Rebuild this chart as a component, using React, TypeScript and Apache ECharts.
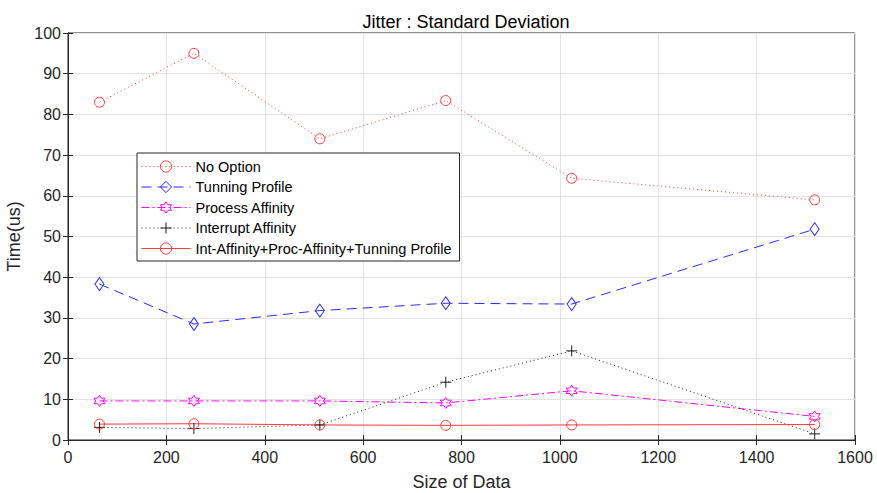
import React, { useEffect, useRef } from "react";
import * as echarts from "echarts";

const xValues = [64, 256, 512, 768, 1024, 1518];
const noOption = [83.0, 95.0, 74.0, 83.4, 64.3, 59.0];
const tunningProfile = [38.3, 28.5, 31.8, 33.6, 33.4, 51.8];
const processAffinity = [9.6, 9.6, 9.6, 9.1, 12.1, 5.8];
const interruptAffinity = [3.1, 2.8, 3.7, 14.2, 21.9, 1.5];
const combined = [3.9, 4.0, 3.7, 3.6, 3.7, 3.8];
const seriesNames = [
  "No Option",
  "Tunning Profile",
  "Process Affinity",
  "Interrupt Affinity",
  "Int-Affinity+Proc-Affinity+Tunning Profile",
];

const hexagram =
  "path://M100,0 L128.9,50 L186.6,50 L157.7,100 L186.6,150 L128.9,150 L100,200 L71.1,150 L13.4,150 L42.3,100 L13.4,50 L71.1,50 Z";
const plus = "path://M0,50 L100,50 M50,0 L50,100";

const FONT = "Arial, 'Liberation Sans', sans-serif";
const AXIS = "#262626";

export default function App() {
  const ref = useRef<HTMLDivElement>(null);
  useEffect(() => {
    if (!ref.current) return;
    const chart = echarts.init(ref.current, undefined, { renderer: "svg" });
    const pairs = (ys: number[]) => xValues.map((x, i) => [x, ys[i]]);
    const styles = [
      { color: "#ff3a3a", type: [1, 3], symbol: "circle", size: 10 },
      { color: "#2a2aff", type: [10, 6], symbol: "diamond", size: [9, 13] },
      { color: "#ff00ff", type: [8, 3, 2, 3], symbol: hexagram, size: 11 },
      { color: "#202020", type: [1, 3], symbol: plus, size: 11 },
      { color: "#ff3a3a", type: "solid", symbol: "circle", size: 10 },
    ];
    const values = [noOption, tunningProfile, processAffinity, interruptAffinity, combined];
    const series = seriesNames.map((name, k) => ({
      name,
      type: "line",
      data: pairs(values[k]),
      symbol: styles[k].symbol,
      symbolSize: styles[k].size,
      showAllSymbol: true,
      lineStyle: { color: styles[k].color, width: 1, type: styles[k].type },
      itemStyle: { color: "rgba(0,0,0,0)", borderColor: styles[k].color, borderWidth: 1 },
      emphasis: { disabled: true },
    }));
    const legendData = seriesNames.map((name, k) => ({
      name,
      itemStyle: { color: "rgba(0,0,0,0)", borderColor: styles[k].color, borderWidth: 1 },
      lineStyle: { color: styles[k].color, width: 1, type: styles[k].type },
    }));
    const tickLabel = (v: number) => String(v);
    chart.setOption({
      animation: false,
      backgroundColor: "#ffffff",
      title: {
        text: "Jitter : Standard Deviation",
        left: 461,
        textAlign: "center",
        top: 8,
        textStyle: { fontFamily: FONT, fontSize: 18, fontWeight: "normal", color: "#000" },
      },
      legend: {
        orient: "vertical",
        left: 137,
        top: 153,
        itemWidth: 49,
        itemHeight: 14,
        itemGap: 5.5,
        padding: [6, 8, 5, 4],
        backgroundColor: "#ffffff",
        borderColor: "#262626",
        borderWidth: 1,
        borderRadius: 0,
        textStyle: { fontFamily: FONT, fontSize: 14.5, color: "#000" },
        data: legendData,
      },
      grid: {
        left: 68,
        right: 22,
        top: 33,
        bottom: 53,
        show: true,
        borderColor: AXIS,
        borderWidth: 1,
        backgroundColor: "#fff",
        containLabel: false,
        outerBoundsMode: "none",
      },
      xAxis: [
        {
          type: "value",
          min: 0,
          max: 1600,
          interval: 200,
          name: "Size of Data",
          nameLocation: "middle",
          nameGap: 33,
          nameTextStyle: { fontFamily: FONT, fontSize: 18, color: AXIS },
          axisLine: { show: true, lineStyle: { color: AXIS } },
          axisTick: { inside: true, length: 5, lineStyle: { color: AXIS } },
          axisLabel: { fontFamily: FONT, fontSize: 16, color: AXIS, margin: 9, formatter: tickLabel },
          splitLine: { show: true, lineStyle: { color: "#e3e3e3", width: 1 } },
        },
        {
          type: "value",
          position: "top",
          min: 0,
          max: 1600,
          interval: 200,
          axisLine: { show: true, lineStyle: { color: AXIS } },
          axisTick: { inside: true, length: 5, lineStyle: { color: AXIS } },
          axisLabel: { show: false },
          splitLine: { show: false },
        },
      ],
      yAxis: [
        {
          type: "value",
          min: 0,
          max: 100,
          interval: 10,
          name: "Time(us)",
          nameLocation: "middle",
          nameGap: 41,
          nameTextStyle: { fontFamily: FONT, fontSize: 18, color: AXIS },
          axisLine: { show: true, lineStyle: { color: AXIS } },
          axisTick: { inside: true, length: 5, lineStyle: { color: AXIS } },
          axisLabel: { fontFamily: FONT, fontSize: 16, color: AXIS, margin: 7, formatter: tickLabel },
          splitLine: { show: true, lineStyle: { color: "#e3e3e3", width: 1 } },
        },
        {
          type: "value",
          position: "right",
          min: 0,
          max: 100,
          interval: 10,
          axisLine: { show: true, lineStyle: { color: AXIS } },
          axisTick: { inside: true, length: 5, lineStyle: { color: AXIS } },
          axisLabel: { show: false },
          splitLine: { show: false },
        },
      ],
      series,
    });
    return () => chart.dispose();
  }, []);
  return (
    <div
      ref={ref}
      style={{ position: "fixed", left: 0, top: 0, width: 877, height: 493 }}
    />
  );
}
